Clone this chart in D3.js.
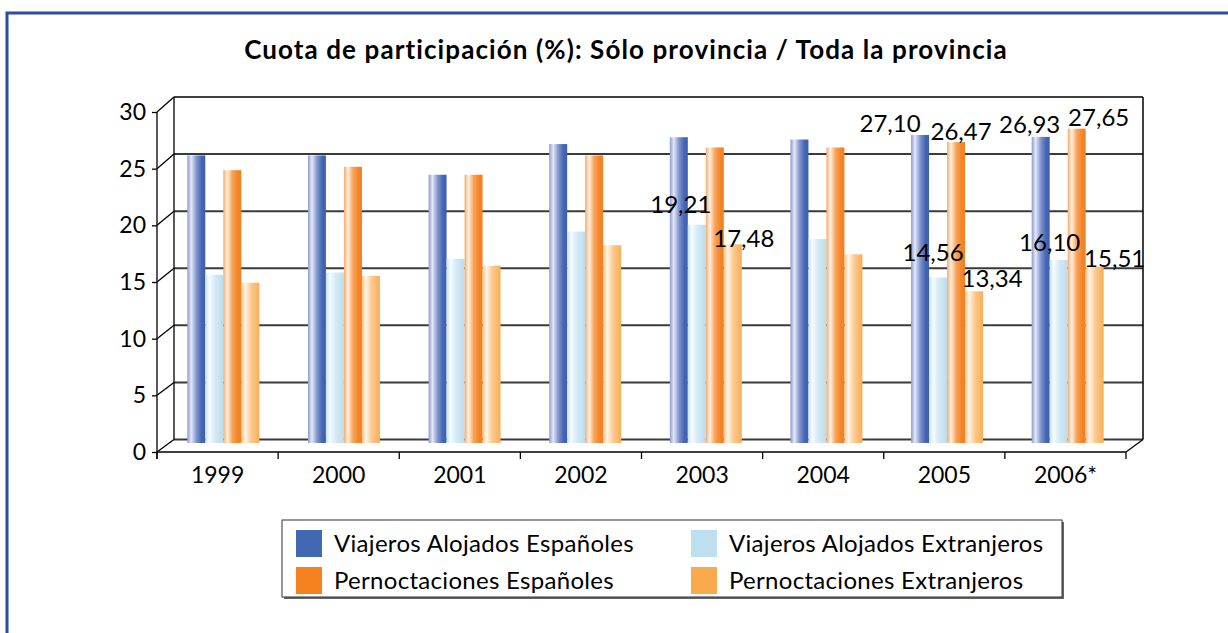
<!DOCTYPE html>
<html><head><meta charset="utf-8">
<script src="https://cdn.jsdelivr.net/npm/d3@7"></script>
<style>
html,body{margin:0;padding:0;background:#fff;}
svg{display:block;}
text{font-family:Lato,"Open Sans",sans-serif;fill:#000;}
</style></head>
<body>
<svg id="chart" width="1228" height="633"></svg>
<script>
// ---------- data ----------
const categories = ["1999","2000","2001","2002","2003","2004","2005","2006*"];
const seriesNames = ["Viajeros Alojados Españoles","Viajeros Alojados Extranjeros","Pernoctaciones Españoles","Pernoctaciones Extranjeros"];
const viajerosEsp = [25.3, 25.3, 23.6, 26.3, 26.9, 26.7, 27.10, 26.93];
const viajerosExt = [14.8, 15.0, 16.2, 18.6, 19.21, 17.95, 14.56, 16.10];
const pernocEsp   = [24.0, 24.3, 23.6, 25.3, 26.0, 26.0, 26.47, 27.65];
const pernocExt   = [14.1, 14.7, 15.6, 17.4, 17.48, 16.6, 13.34, 15.51];
const yTicks = [0,5,10,15,20,25,30];
const title = "Cuota de participación (%): Sólo provincia / Toda la provincia";
// labelled bars: [category index, series index]
const labelled = [[4,1],[4,3],[6,0],[6,1],[6,2],[6,3],[7,0],[7,1],[7,2],[7,3]];
// label nudges (px) relative to bar top centre
const labelNudge = [[-16,-20],[11,-6],[-30,-12],[-5,-25],[5,-11],[18,-13],[-11,-13],[-9,-18],[22,-11],[20,-8]];

const series = [viajerosEsp, viajerosExt, pernocEsp, pernocExt];
const swatch = ["#4168b2","#bddff0","#f5821f","#f9aa4c"];
const grads = [
  [["0%","#8e9ad0"],["22%","#e4e8f6"],["50%","#8396cf"],["80%","#4466b2"],["100%","#3d5fae"]],
  [["0%","#c6e2f1"],["22%","#f6fbfe"],["55%","#d3eaf5"],["100%","#bcdcee"]],
  [["0%","#f7a86a"],["22%","#fff0e2"],["50%","#f8a45a"],["80%","#f3852a"],["100%","#f28020"]],
  [["0%","#fbc186"],["22%","#fff5ea"],["55%","#fcc88c"],["100%","#f9ae58"]]
];

const svg = d3.select("#chart");
const defs = svg.append("defs");
grads.forEach((g,i)=>{
  const lg = defs.append("linearGradient").attr("id","g"+i).attr("x1","0").attr("x2","1").attr("y1","0").attr("y2","0");
  g.forEach(s=>lg.append("stop").attr("offset",s[0]).attr("stop-color",s[1]));
});

// frame
svg.append("path").attr("d","M7,633 L7,13 L1228,13").attr("fill","none").attr("stroke","#2c4c9c").attr("stroke-width",3);

// title
svg.append("text").attr("x",626).attr("y",59).attr("text-anchor","middle")
  .style("font-weight","bold").style("font-size","26px").style("letter-spacing","1.1px").text(title);

// scales
const depthX = 17;
const yFront = d3.scaleLinear().domain([0,30]).range([452,112]);
const yBack  = d3.scaleLinear().domain([0,30]).range([439.5,97]);
const yBar   = d3.scaleLinear().domain([0,30]).range([443,102]);
const xFront = d3.scaleBand().domain(categories).range([157,1126]);
const xBar   = d3.scaleBand().domain(categories).range([163,1128]);
const xSub   = d3.scaleBand().domain(d3.range(4)).range([0,72]);
const backL = xFront.range()[0] + depthX, backR = xFront.range()[1] + depthX;

const grid = svg.append("g").attr("stroke","#333").attr("fill","none");
// back wall gridlines
yTicks.forEach(v=>{
  grid.append("line").attr("x1",backL).attr("x2",backR).attr("y1",yBack(v)).attr("y2",yBack(v))
    .attr("stroke-width", v===30?1.5:2).attr("stroke", v===30?"#000":"#3a3a3a");
  // side wall diagonals
  grid.append("line").attr("x1",157).attr("y1",yFront(v)).attr("x2",backL).attr("y2",yBack(v)).attr("stroke","#000").attr("stroke-width",1.3);
});
grid.append("line").attr("x1",backL).attr("x2",backL).attr("y1",yBack(30)).attr("y2",yBack(0)).attr("stroke","#000").attr("stroke-width",1.3);
grid.append("line").attr("x1",backR).attr("x2",backR).attr("y1",yBack(30)).attr("y2",yBack(0)).attr("stroke","#000").attr("stroke-width",1.5);
// floor front diagonal at right
grid.append("line").attr("x1",1126).attr("y1",yFront(0)).attr("x2",backR).attr("y2",yBack(0)).attr("stroke","#000").attr("stroke-width",1.3);

// bars
const bars = svg.append("g");
categories.forEach((c,ci)=>{
  series.forEach((s,si)=>{
    const x0 = xBar(c) + xBar.bandwidth()/2 - 36 + xSub(si);
    bars.append("rect").attr("x",x0).attr("width",xSub.bandwidth())
      .attr("y",yBar(s[ci])).attr("height",yBar(0)-yBar(s[ci]))
      .attr("fill","url(#g"+si+")");
  });
});

// front y axis
const yAxis = svg.append("g").attr("transform","translate(157,0)")
  .call(d3.axisLeft(yFront).tickValues(yTicks).tickSize(5).tickPadding(6).tickFormat(d3.format("d")));
yAxis.select(".domain").attr("stroke","#000").attr("stroke-width",1.3).attr("d","M0,"+yFront(30)+"V"+(yFront(0)+7));
yAxis.selectAll(".tick line").attr("stroke","#000").attr("stroke-width",1.3);
yAxis.selectAll("text").style("font-size","23px").style("font-family","Lato").attr("fill","#000");

// front x axis
const xAxis = svg.append("g").attr("transform","translate(0,"+yFront(0)+")")
  .call(d3.axisBottom(xFront).tickSize(0).tickPadding(15));
xAxis.select(".domain").attr("stroke","#000").attr("stroke-width",1.3).attr("d","M157,0H1126");
xAxis.selectAll("text").style("font-size","23px").style("font-family","Lato").attr("fill","#000");
// category separators
const seps = categories.map(c=>xFront(c)).concat([xFront.range()[1]]);
xAxis.selectAll(".sep").data(seps).enter().append("line").attr("class","sep")
  .attr("x1",d=>d).attr("x2",d=>d).attr("y1",0).attr("y2",7).attr("stroke","#000").attr("stroke-width",1.3);

// data labels
const fmt = v=>d3.format(".2f")(v).replace(".",",");
const lab = svg.append("g");
labelled.forEach((p,i)=>{
  const [ci,si] = p; const v = series[si][ci];
  const cx = xBar(categories[ci]) + xBar.bandwidth()/2 - 36 + xSub(si) + xSub.bandwidth()/2;
  lab.append("text").attr("x",cx+labelNudge[i][0]).attr("y",yBar(v)+labelNudge[i][1]).attr("dy","0.36em")
    .attr("text-anchor","middle").style("font-size","24px").text(fmt(v));
});

// legend
const leg = svg.append("g");
leg.append("rect").attr("x",284).attr("y",522).attr("width",780).attr("height",77).attr("fill","#666");
leg.append("rect").attr("x",282).attr("y",520).attr("width",780).attr("height",77).attr("fill","#fff").attr("stroke","#333").attr("stroke-width",1);
const legPos = [[296,530],[691,530],[296,567],[691,567]];
const legOrder = [0,1,2,3];
legOrder.forEach((si,i)=>{
  const [lx,ly] = legPos[i];
  leg.append("rect").attr("x",lx).attr("y",ly).attr("width",26).attr("height",27).attr("fill",swatch[si]);
  leg.append("text").attr("x",lx+38).attr("y",ly+13.5).attr("dy","0.36em").style("font-size","24px").style("letter-spacing","0.3px").text(seriesNames[si]);
});
</script>
</body></html>
